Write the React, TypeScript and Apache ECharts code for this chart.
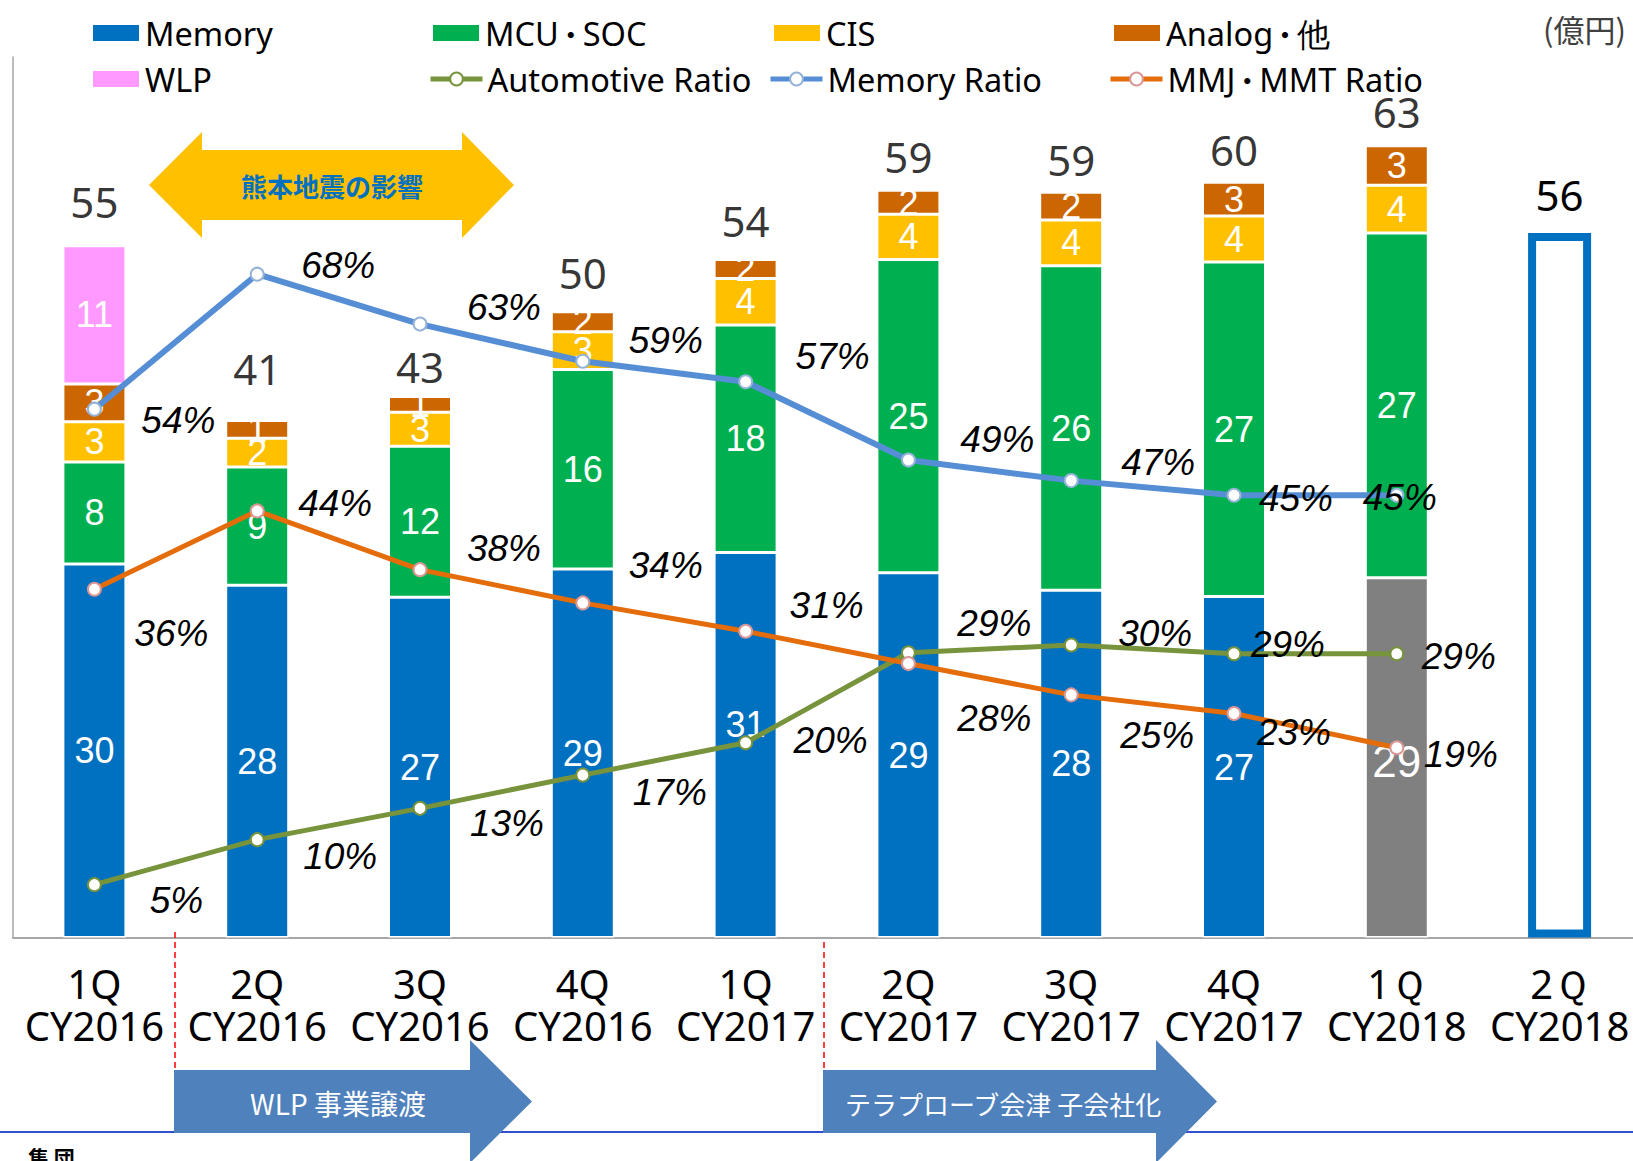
import React, { useEffect, useRef } from 'react';
import * as echarts from 'echarts';

// ---------- data ----------
const CATEGORIES = ['1Q\nCY2016', '2Q\nCY2016', '3Q\nCY2016', '4Q\nCY2016', '1Q\nCY2017', '2Q\nCY2017', '3Q\nCY2017', '4Q\nCY2017', '1Ｑ\nCY2018', '2Ｑ\nCY2018'];
const MEMORY = [29.7, 28.0, 27.05, 29.3, 30.6, 29.0, 27.6, 27.1, 28.6];
const MCU_SOC = [8.1, 9.4, 12.0, 15.85, 18.1, 24.9, 25.8, 26.6, 27.4];
const CIS = [3.2, 2.3, 2.7, 3.0, 3.7, 3.6, 3.65, 3.65, 3.8];
const ANALOG = [3.0, 1.4, 1.25, 1.6, 1.5, 1.9, 2.2, 2.7, 3.15];
const WLP = [11.0];
const FORECAST = [null, null, null, null, null, null, null, null, null, 56];
const AUTOMOTIVE_RATIO = [5.4, 10, 13.2, 16.6, 19.9, 29.1, 29.9, 29, 29];
const MEMORY_RATIO = [54, 67.8, 62.7, 58.9, 56.8, 48.8, 46.7, 45.2, 45.2];
const MMJ_MMT_RATIO = [35.6, 43.6, 37.6, 34.2, 31.3, 28, 24.8, 22.9, 19.4];

// ---------- label placement (style, not data) ----------
const TOTAL_LIFT = [44, 52, 30, 39, 39, 34, 33, 33, 34];
const MEM_OFF = [[84, 11], [81, -9], [84, -17], [83, -21], [87, -25], [89, -21], [87, -18], [62, 3], [3, 2]];
const AUTO_OFF = [[82, 16], [83, 17], [87, 15], [87, 17], [85, -2], [86, -29], [84, -11], [54, -9], [62, 3]];
const MMJ_OFF = [[77, 44], [78, -7], [84, -21], [83, -37], [81, -26], [86, 55], [86, 41], [60, 19], [64, 7]];
const MEMORY_LABEL_SHIFT: Record<number, number[]> = { 4: [0, -21], 8: [0, 4] };
const GRAY_INDEX = 8;

const pad = (arr: number[]) => CATEGORIES.map((_, i) => (i < arr.length ? arr[i] : null));
const TOTALS = MEMORY.map((v, i) => v + MCU_SOC[i] + CIS[i] + ANALOG[i] + (WLP[i] || 0));

const SANS = 'Noto Sans';
const ARIAL = 'Liberation Sans';
const CJK = 'Noto Sans CJK JP';

function buildOption() {
  const segLabel = {
    show: true,
    position: 'inside',
    color: '#fff',
    fontFamily: ARIAL,
    fontSize: 36,
    formatter: (p: any) => (p.value == null ? '' : String(Math.round(p.value))),
  };
  const barSeries = (name: string, arr: number[], color: string, special?: boolean) => ({
    name,
    type: 'bar',
    stack: 'total',
    barWidth: 63,
    yAxisIndex: 0,
    z: 2,
    silent: true,
    itemStyle: { color, borderColor: '#fff', borderWidth: 1.5 },
    label: segLabel,
    data: pad(arr).map((v, i) => {
      if (!special || v == null) return v;
      const item: any = { value: v };
      if (MEMORY_LABEL_SHIFT[i]) item.label = { offset: MEMORY_LABEL_SHIFT[i] };
      if (i === GRAY_INDEX) {
        item.itemStyle = { color: '#808080' };
        item.label = { ...(item.label || {}), fontSize: 44 };
      }
      return item;
    }),
  });
  const ratioSeries = (name: string, arr: number[], color: string, border: string, offs: number[][], width: number) => ({
    name,
    type: 'line',
    yAxisIndex: 1,
    z: 4,
    silent: true,
    symbol: 'circle',
    symbolSize: 13,
    showAllSymbol: true,
    lineStyle: { color, width },
    itemStyle: { color: '#fff', borderColor: border, borderWidth: 2 },
    label: {
      show: true,
      position: 'inside',
      fontFamily: ARIAL,
      fontStyle: 'italic',
      fontSize: 37,
      color: '#000',
      formatter: (p: any) => Math.round(p.value) + '%',
    },
    data: arr.map((v, i) => ({ value: v, label: { offset: offs[i] } })),
  });

  const legendBase = {
    orient: 'horizontal',
    padding: 0,
    itemGap: 0,
    selectedMode: false,
    formatter: (name: string) => name.split('・').join('{d|・}'),
    textStyle: {
      fontFamily: SANS, fontSize: 32.5, color: '#000', lineHeight: 38,
      rich: { d: { fontFamily: CJK, fontSize: 24, fontWeight: 'bold', lineHeight: 38, color: '#000' } },
    },
  };
  const rectLegend = (name: string, left: number, cy: number) => ({
    ...legendBase, data: [name], left, top: cy - 19, icon: 'rect', itemWidth: 48, itemHeight: 18,
  });
  const lineLegend = (name: string, left: number, cy: number) => ({
    ...legendBase, data: [name], left, top: cy - 19, itemWidth: 52, itemHeight: 16,
    lineStyle: { width: 5 },
  });

  return {
    animation: false,
    backgroundColor: '#fff',
    grid: { left: 13, top: 57, width: 1628, height: 880.5, containLabel: false, outerBoundsMode: 'none' },
    legend: [
      rectLegend('Memory', 91, 33),
      rectLegend('MCU・SOC', 431, 33),
      rectLegend('CIS', 772, 33),
      rectLegend('Analog・他', 1112, 33),
      rectLegend('WLP', 91, 79),
      lineLegend('Automotive Ratio', 428, 79),
      lineLegend('Memory Ratio', 768, 79),
      lineLegend('MMJ・MMT Ratio', 1108, 79),
    ],
    xAxis: {
      type: 'category',
      data: CATEGORIES,
      axisLine: { show: true, lineStyle: { color: '#A6A6A6', width: 2 } },
      axisTick: { show: false },
      axisLabel: {
        interval: 0,
        margin: 25,
        color: '#000',
        fontFamily: SANS,
        fontSize: 40,
        lineHeight: 42,
      },
    },
    yAxis: [
      {
        type: 'value', min: 0, max: 70,
        axisLine: { show: true, lineStyle: { color: '#A6A6A6', width: 1.5 } },
        axisLabel: { show: false }, axisTick: { show: false }, splitLine: { show: false },
      },
      { type: 'value', min: 0, max: 90, show: false, splitLine: { show: false } },
    ],
    series: [
      barSeries('Memory', MEMORY, '#0070C0', true),
      barSeries('MCU・SOC', MCU_SOC, '#00B050'),
      barSeries('CIS', CIS, '#FFC000'),
      barSeries('Analog・他', ANALOG, '#CC6600'),
      barSeries('WLP', WLP, '#FF99FF'),
      {
        name: 'Forecast',
        type: 'bar',
        stack: 'total',
        barWidth: 63,
        z: 2,
        silent: true,
        itemStyle: { color: '#fff', borderColor: '#0070C0', borderWidth: 8 },
        label: { show: true, position: 'top', distance: 18, color: '#000', fontFamily: SANS, fontSize: 42 },
        data: FORECAST,
      },
      ratioSeries('Automotive Ratio', AUTOMOTIVE_RATIO, '#77933C', '#77933C', AUTO_OFF, 5),
      ratioSeries('Memory Ratio', MEMORY_RATIO, '#558ED5', '#95B3D7', MEM_OFF, 6),
      ratioSeries('MMJ・MMT Ratio', MMJ_MMT_RATIO, '#E46C0A', '#D99694', MMJ_OFF, 5),
      {
        name: 'Total',
        type: 'scatter',
        yAxisIndex: 0,
        z: 5,
        silent: true,
        symbolSize: 1,
        itemStyle: { color: 'rgba(0,0,0,0)' },
        label: {
          show: true, position: 'inside', color: '#000', fontFamily: SANS, fontSize: 42,
          formatter: (p: any) => String(Math.round(p.value)),
        },
        data: TOTALS.map((v, i) => ({ value: v, label: { offset: [0, -TOTAL_LIFT[i]] } })),
      },
    ],
    graphic: [
      {
        type: 'polygon', z: 1,
        shape: { points: [[149, 185], [202, 132], [202, 150], [462, 150], [462, 132], [514, 185], [462, 238], [462, 220], [202, 220], [202, 238]] },
        style: { fill: '#FFC000' },
      },
      {
        type: 'text', z: 2, x: 332, y: 185,
        style: { text: '熊本地震の影響', fill: '#0070C0', font: `bold 26px "${CJK}"`, align: 'center', verticalAlign: 'middle' },
      },
      {
        type: 'text', x: 1543, y: 28,
        style: { text: '(億円)', fill: '#404040', font: `31px "${CJK}"`, align: 'left', verticalAlign: 'middle' },
      },
      { type: 'line', z: 0, shape: { x1: 0, y1: 1132, x2: 1633, y2: 1132 }, style: { stroke: '#3050D0', lineWidth: 2 } },
      { type: 'line', z: 1, shape: { x1: 175, y1: 932, x2: 175, y2: 1070 }, style: { stroke: '#FF0000', lineWidth: 1.5, lineDash: [6, 4] } },
      { type: 'line', z: 1, shape: { x1: 824, y1: 942, x2: 824, y2: 1070 }, style: { stroke: '#FF0000', lineWidth: 1.5, lineDash: [6, 4] } },
      {
        type: 'polygon', z: 2,
        shape: { points: [[174, 1070], [470, 1070], [470, 1040], [532, 1101.5], [470, 1163], [470, 1133], [174, 1133]] },
        style: { fill: '#4F81BD' },
      },
      {
        type: 'text', z: 3, x: 338, y: 1103,
        style: { text: 'WLP 事業譲渡', fill: '#fff', font: `28px "${CJK}"`, align: 'center', verticalAlign: 'middle' },
      },
      {
        type: 'polygon', z: 2,
        shape: { points: [[823, 1070], [1156, 1070], [1156, 1040], [1217, 1101.5], [1156, 1163], [1156, 1133], [823, 1133]] },
        style: { fill: '#4F81BD' },
      },
      {
        type: 'text', z: 3, x: 1003, y: 1103,
        style: { text: 'テラプローブ会津 子会社化', fill: '#fff', font: `26px "${CJK}"`, align: 'center', verticalAlign: 'middle' },
      },
      {
        type: 'text', z: 3, x: 28, y: 1146,
        style: { text: '集 団', fill: '#000', font: `bold 21px "${CJK}"`, align: 'left', verticalAlign: 'top' },
      },
    ],
  };
}

export default function App() {
  const ref = useRef<HTMLDivElement>(null);
  useEffect(() => {
    if (!ref.current) return;
    const chart = echarts.init(ref.current, undefined, { renderer: 'svg' });
    chart.setOption(buildOption() as any);
    return () => chart.dispose();
  }, []);
  return (
    <div
      ref={ref}
      style={{ position: 'absolute', left: 0, top: 0, width: 1633, height: 1161, background: '#fff' }}
    />
  );
}
